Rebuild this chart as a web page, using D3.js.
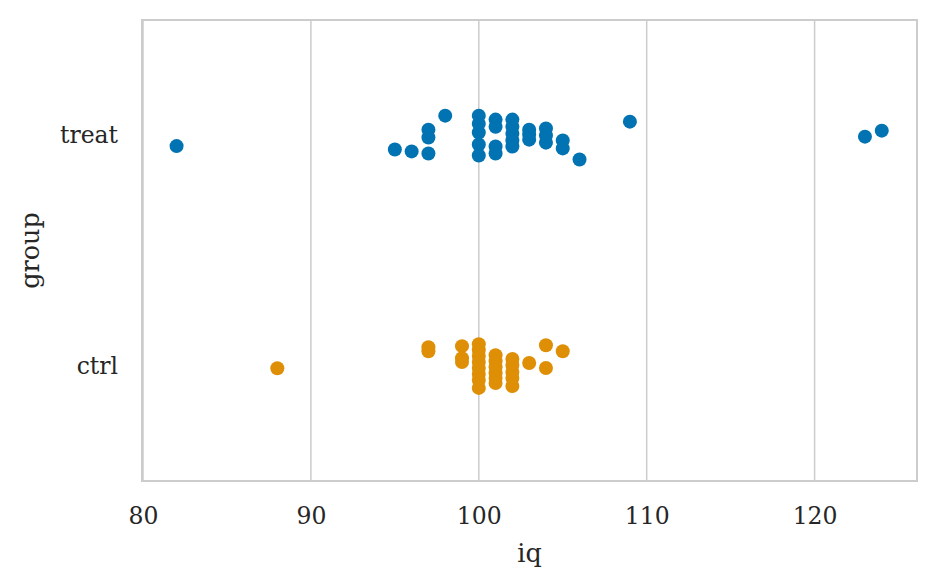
<!DOCTYPE html>
<html>
<head>
<meta charset="utf-8">
<script src="https://cdn.jsdelivr.net/npm/d3@7"></script>
<style>
  body { margin: 0; background: #fff; }
  svg text { font-family: "DejaVu Serif", serif; fill: #262626; }
</style>
</head>
<body>
<svg id="chart" width="936" height="586"></svg>
<script>
// categories and their colours
var groups = ["treat", "ctrl"];
var groupColors = ["#0173b2", "#de8f05"];

// iq values per group, with the jitter offset (in category units)
var treatIq =     [82, 95, 96, 97, 97, 97, 98, 100, 100, 100, 100, 100, 101, 101, 101, 101, 102, 102, 102, 102, 102, 103, 103, 103, 104, 104, 104, 105, 105, 106, 109, 123, 124];
var treatJitter = [0.047, 0.062, 0.070, -0.024, 0.010, 0.079, -0.085, -0.085, -0.050, -0.012, 0.040, 0.088, -0.068, -0.037, 0.049, 0.079, -0.068, -0.037, -0.007, 0.023, 0.049, -0.024, -0.003, 0.019, -0.029, 0.001, 0.032, 0.023, 0.057, 0.105, -0.059, 0.006, -0.020];

var ctrlIq =     [88, 97, 97, 99, 99, 99, 100, 100, 100, 100, 100, 100, 100, 100, 101, 101, 101, 101, 101, 101, 102, 102, 102, 102, 102, 103, 104, 104, 105];
var ctrlJitter = [0.011, -0.080, -0.063, -0.085, -0.033, -0.016, -0.093, -0.068, -0.042, -0.016, 0.010, 0.036, 0.062, 0.096, -0.046, -0.020, 0.006, 0.032, 0.053, 0.075, -0.029, -0.003, 0.027, 0.053, 0.088, -0.012, -0.089, 0.010, -0.063];

var xTicks = [80, 90, 100, 110, 120];

var margin = {left: 142, right: 19, top: 20, bottom: 105};
var width = 936, height = 586;

var svg = d3.select("#chart");

var x = d3.scaleLinear()
  .domain([79.94, 126.1])
  .range([margin.left, width - margin.right]);

var y = d3.scaleLinear()
  .domain([-0.5, 1.5])
  .range([margin.top, height - margin.bottom]);

// vertical grid lines
svg.append("g")
  .selectAll("line")
  .data(xTicks)
  .enter()
  .append("line")
    .attr("x1", function(d){ return x(d); })
    .attr("x2", function(d){ return x(d); })
    .attr("y1", margin.top)
    .attr("y2", height - margin.bottom)
    .attr("stroke", "#cccccc")
    .attr("stroke-width", 1.5);

// frame
svg.append("rect")
  .attr("x", margin.left)
  .attr("y", margin.top)
  .attr("width", width - margin.left - margin.right)
  .attr("height", height - margin.top - margin.bottom)
  .attr("fill", "none")
  .attr("stroke", "#cccccc")
  .attr("stroke-width", 2);

// points
var points = [];
treatIq.forEach(function(v, i){ points.push({g: 0, iq: v, j: treatJitter[i]}); });
ctrlIq.forEach(function(v, i){ points.push({g: 1, iq: v, j: ctrlJitter[i]}); });

svg.append("g")
  .selectAll("circle")
  .data(points)
  .enter()
  .append("circle")
    .attr("cx", function(d){ return x(d.iq); })
    .attr("cy", function(d){ return y(d.g + d.j); })
    .attr("r", 7)
    .attr("fill", function(d){ return groupColors[d.g]; });

// x axis
var xAxis = svg.append("g")
  .attr("transform", "translate(0," + (height - margin.bottom) + ")")
  .call(d3.axisBottom(x).tickValues(xTicks).tickSize(0).tickPadding(26));
xAxis.select(".domain").remove();
xAxis.selectAll("text")
  .style("font-size", "23.5px");

// y axis
var yAxis = svg.append("g")
  .attr("transform", "translate(" + margin.left + ",0)")
  .call(d3.axisLeft(y).tickValues([0, 1]).tickFormat(function(d){ return groups[d]; }).tickSize(0).tickPadding(24));
yAxis.select(".domain").remove();
yAxis.selectAll("text")
  .style("font-size", "23.5px");

// axis titles
svg.append("text")
  .attr("x", (margin.left + width - margin.right) / 2)
  .attr("y", 562)
  .attr("text-anchor", "middle")
  .style("font-size", "25.5px")
  .text("iq");

svg.append("text")
  .attr("transform", "translate(39," + ((margin.top + height - margin.bottom) / 2) + ") rotate(-90)")
  .attr("text-anchor", "middle")
  .style("font-size", "25.5px")
  .text("group");
</script>
</body>
</html>
